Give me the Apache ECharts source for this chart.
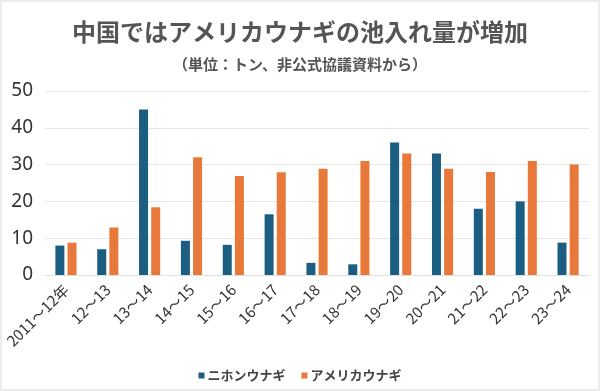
<!DOCTYPE html>
<html><head><meta charset="utf-8">
<script src="https://cdn.jsdelivr.net/npm/echarts@6/dist/echarts.min.js"></script>
<style>
html,body{margin:0;padding:0;background:#fff;}
#c{width:600px;height:391px;box-sizing:border-box;border:2px solid #ececec;}
</style></head>
<body><div id="c"></div>
<script>
const title = '中国ではアメリカウナギの池入れ量が増加';
const subtitle = '（単位：トン、非公式協議資料から）';
const categories = ['2011〜12年','12〜13','13〜14','14〜15','15〜16','16〜17','17〜18','18〜19','19〜20','20〜21','21〜22','22〜23','23〜24'];
const seriesNames = ['ニホンウナギ','アメリカウナギ'];
const japaneseEel = [8, 7, 45, 9.3, 8.2, 16.5, 3.3, 2.9, 36, 33, 18, 20, 8.8];
const americanEel = [8.8, 12.9, 18.4, 32, 26.9, 27.9, 28.9, 31, 33, 28.9, 28, 31, 30];
const yTicks = [0, 10, 20, 30, 40, 50];

const chart = echarts.init(document.getElementById('c'), null, {renderer:'canvas'});
const font = '"Noto Sans CJK JP","Noto Sans",sans-serif';
chart.setOption({
  animation:false,
  backgroundColor:'#fff',
  title:[
    {text:title,left:'center',top:13,textStyle:{fontFamily:font,fontSize:24,fontWeight:'bold',color:'#555'}},
    {text:subtitle,left:'center',top:50,textStyle:{fontFamily:font,fontSize:15,fontWeight:'bold',color:'#555'}}
  ],
  legend:{bottom:2,left:'center',itemWidth:6,itemHeight:6,itemGap:16,icon:'rect',
    textStyle:{fontFamily:font,fontSize:13,fontWeight:'bold',color:'#444',padding:[0,0,0,-2]},
    data:seriesNames},
  grid:{left:43,right:9,top:89,bottom:114},
  xAxis:{type:'category',data:categories,
    axisLine:{show:true,lineStyle:{color:'#e0e0e0'}},axisTick:{show:false},
    axisLabel:{rotate:45,interval:0,margin:12,fontFamily:font,fontSize:15,color:'#333'}},
  yAxis:{type:'value',min:0,max:50,interval:10,
    axisLine:{show:false},axisTick:{show:false},
    splitLine:{lineStyle:{color:'#e6e6e6'}},
    axisLabel:{margin:12,fontFamily:'"Noto Sans",sans-serif',fontSize:19,color:'#333',
      formatter:v=>yTicks.includes(v)?String(v):''}},
  series:[
    {name:seriesNames[0],type:'bar',data:japaneseEel,barWidth:9,barGap:'35%',itemStyle:{color:'#1b5e82'}},
    {name:seriesNames[1],type:'bar',data:americanEel,barWidth:9,itemStyle:{color:'#e8793a'}}
  ]
});
</script></body></html>
